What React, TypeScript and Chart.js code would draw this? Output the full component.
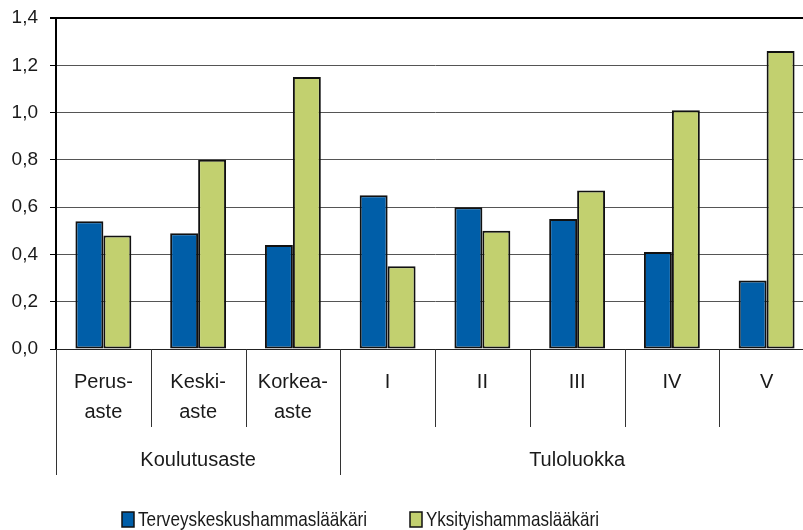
import React, { useEffect, useRef } from 'react';
import { Chart, registerables } from 'chart.js';

Chart.register(...registerables);

const categories: (string | string[])[] = [
  ['Perus-', 'aste'],
  ['Keski-', 'aste'],
  ['Korkea-', 'aste'],
  'I',
  'II',
  'III',
  'IV',
  'V',
];
const terveyskeskus = [0.54, 0.49, 0.44, 0.65, 0.6, 0.55, 0.41, 0.29];
const yksityis = [0.48, 0.8, 1.15, 0.35, 0.5, 0.67, 1.01, 1.26];
const seriesNames = ['Terveyskeskushammaslääkäri', 'Yksityishammaslääkäri'];
const groupNames = ['Koulutusaste', 'Tuloluokka'];
const groupSizes = [3, 5];
const yMin = 0;
const yMax = 1.4;
const yStep = 0.2;

const BLUE = '#005ea8';
const GREEN = '#c2d06f';
const FONT = '"Liberation Sans", Arial, sans-serif';

const groupPlugin = {
  id: 'groupPlugin',
  afterDraw(chart: any) {
    const ctx = chart.ctx as CanvasRenderingContext2D;
    const xs = chart.scales.x;
    const bottom = chart.chartArea.bottom;
    ctx.save();
    ctx.strokeStyle = '#333';
    ctx.lineWidth = 1;
    const groupEdges = new Set<number>();
    let acc = 0;
    groupEdges.add(0);
    groupSizes.forEach((s) => {
      acc += s;
      groupEdges.add(acc);
    });
    for (let i = 0; i <= categories.length; i++) {
      const px = Math.round(xs.getPixelForValue(i - 0.5)) + 0.5;
      const len = groupEdges.has(i) ? 126 : 78;
      ctx.beginPath();
      ctx.moveTo(px, bottom);
      ctx.lineTo(px, bottom + len);
      ctx.stroke();
    }
    // group labels
    ctx.fillStyle = '#1a1a1a';
    ctx.font = `20px ${FONT}`;
    ctx.textAlign = 'center';
    ctx.textBaseline = 'middle';
    let start = 0;
    groupSizes.forEach((s, gi) => {
      const l = xs.getPixelForValue(start - 0.5);
      const r = xs.getPixelForValue(start + s - 0.5);
      ctx.fillText(groupNames[gi], (l + r) / 2, bottom + 111);
      start += s;
    });
    // legend
    const colors = [BLUE, GREEN];
    const boxX = [122, 410];
    const textW = [229, 173];
    ctx.textAlign = 'left';
    ctx.font = `21px ${FONT}`;
    seriesNames.forEach((n, i) => {
      ctx.fillStyle = colors[i];
      ctx.fillRect(boxX[i], 512, 12, 15);
      ctx.strokeStyle = '#111';
      ctx.lineWidth = 1.5;
      ctx.strokeRect(boxX[i], 512, 12, 15);
      ctx.fillStyle = '#1a1a1a';
      ctx.fillText(n, boxX[i] + 16, 520, textW[i]);
    });
    ctx.restore();
  },
};

export default function App() {
  const ref = useRef<HTMLCanvasElement | null>(null);
  useEffect(() => {
    if (!ref.current) return;
    const chart = new Chart(ref.current, {
      type: 'bar',
      data: {
        labels: categories,
        datasets: [
          {
            label: seriesNames[0],
            data: terveyskeskus,
            backgroundColor: BLUE,
            borderColor: '#111',
            borderWidth: 2,
            borderSkipped: false,
          },
          {
            label: seriesNames[1],
            data: yksityis,
            backgroundColor: GREEN,
            borderColor: '#111',
            borderWidth: 2,
            borderSkipped: false,
          },
        ],
      },
      options: {
        responsive: false,
        animation: false,
        devicePixelRatio: 1,
        layout: { padding: { top: 18, right: 16, left: 0, bottom: 0 } },
        datasets: { bar: { categoryPercentage: 0.59, barPercentage: 1 } },
        plugins: { legend: { display: false }, tooltip: { enabled: false } },
        scales: {
          x: {
            offset: true,
            grid: { display: false, drawTicks: false, offset: true },
            border: { display: true, color: '#222', width: 1 },
            ticks: {
              autoSkip: false,
              maxRotation: 0,
              padding: 18,
              color: '#1a1a1a',
              font: { family: FONT, size: 20, lineHeight: 1.5 },
            },
            afterFit(scale: any) {
              scale.height = 181;
            },
          },
          y: {
            min: yMin,
            max: yMax,
            ticks: {
              stepSize: yStep,
              padding: 12,
              color: '#1a1a1a',
              font: { family: FONT, size: 19 },
              callback: (v: any) => Number(v).toFixed(1).replace('.', ','),
            },
            grid: {
              color: (c: any) => (c.tick && Math.abs(c.tick.value - yMax) < 1e-6 ? '#000' : '#555'),
              lineWidth: (c: any) => (c.tick && Math.abs(c.tick.value - yMax) < 1e-6 ? 2 : 1),
              tickColor: '#000',
              tickLength: 6,
              drawTicks: true,
            },
            border: { display: true, color: '#000', width: 2 },
            afterFit(scale: any) {
              scale.width = 56;
              scale.paddingTop = 0;
              scale.paddingBottom = 0;
            },
          },
        },
      },
      plugins: [groupPlugin],
    });
    return () => chart.destroy();
  }, []);
  return (
    <div
      style={{
        position: 'absolute',
        left: 0,
        top: 0,
        width: 803,
        height: 530,
        overflow: 'hidden',
        background: '#fff',
      }}
    >
      <canvas ref={ref} width={830} height={530} style={{ display: 'block', width: 830, height: 530 }} />
    </div>
  );
}
